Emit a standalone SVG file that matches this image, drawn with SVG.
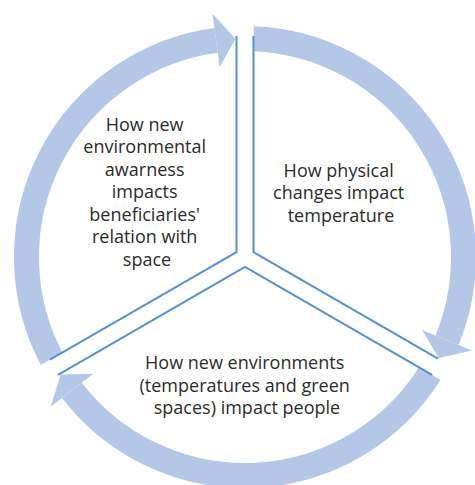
<svg xmlns="http://www.w3.org/2000/svg" width="475" height="485" viewBox="0 0 475 485">
  <style>
    .ring { fill: none; stroke: #B4C7E7; stroke-width: 25; stroke-linecap: butt; }
    .head { fill: #B4C7E7; stroke: none; }
    .edge { fill: none; stroke: #5590CE; stroke-width: 2; stroke-linejoin: miter; }
    .lbl { font-family: "Open Sans", "Noto Sans", "Liberation Sans", sans-serif; font-size: 18px; fill: #2b2b2b; text-anchor: middle; }
  </style>
  <rect width="475" height="485" fill="#ffffff"/>
  <g id="connectors">
    <path class="ring" d="M253.39,38.66 A218.5,218.5 0 0 1 447.01,340.26"/>
    <polygon class="head" points="422.05,329.97 471.98,350.55 438.81,357.89"/>
    <path class="ring" d="M429.89,373.43 A218.5,218.5 0 0 1 71.88,390.32"/>
    <polygon class="head" points="93.28,373.84 50.49,406.79 60.72,374.40"/>
    <path class="ring" d="M51.72,358.93 A218.5,218.5 0 0 1 216.10,40.42"/>
    <polygon class="head" points="219.67,67.18 212.53,13.66 235.47,38.71"/>
  </g>
  <g id="node-awareness">
    <polyline class="edge" points="236.5,36 236.5,252.1 50,359.6"/>
    <text class="lbl">
      <tspan x="147" y="130.5">How new</tspan>
      <tspan x="147" y="153">environmental</tspan>
      <tspan x="147" y="175.5">awarness</tspan>
      <tspan x="147" y="198">impacts</tspan>
      <tspan x="147" y="220.5">beneficiaries'</tspan>
      <tspan x="147" y="243">relation with</tspan>
      <tspan x="147" y="265.5">space</tspan>
    </text>
  </g>
  <g id="node-physical">
    <polyline class="edge" points="253.5,36 253.5,252.1 438,358.6"/>
    <text class="lbl">
      <tspan x="341" y="176.5">How physical</tspan>
      <tspan x="341" y="199">changes impact</tspan>
      <tspan x="341" y="221.5">temperature</tspan>
    </text>
  </g>
  <g id="node-environments">
    <polyline class="edge" points="58,374.8 245,266.8 432,374.8"/>
    <text class="lbl">
      <tspan x="247" y="369">How new environments</tspan>
      <tspan x="247" y="391.5">(temperatures and green</tspan>
      <tspan x="247" y="414">spaces) impact people</tspan>
    </text>
  </g>
</svg>
